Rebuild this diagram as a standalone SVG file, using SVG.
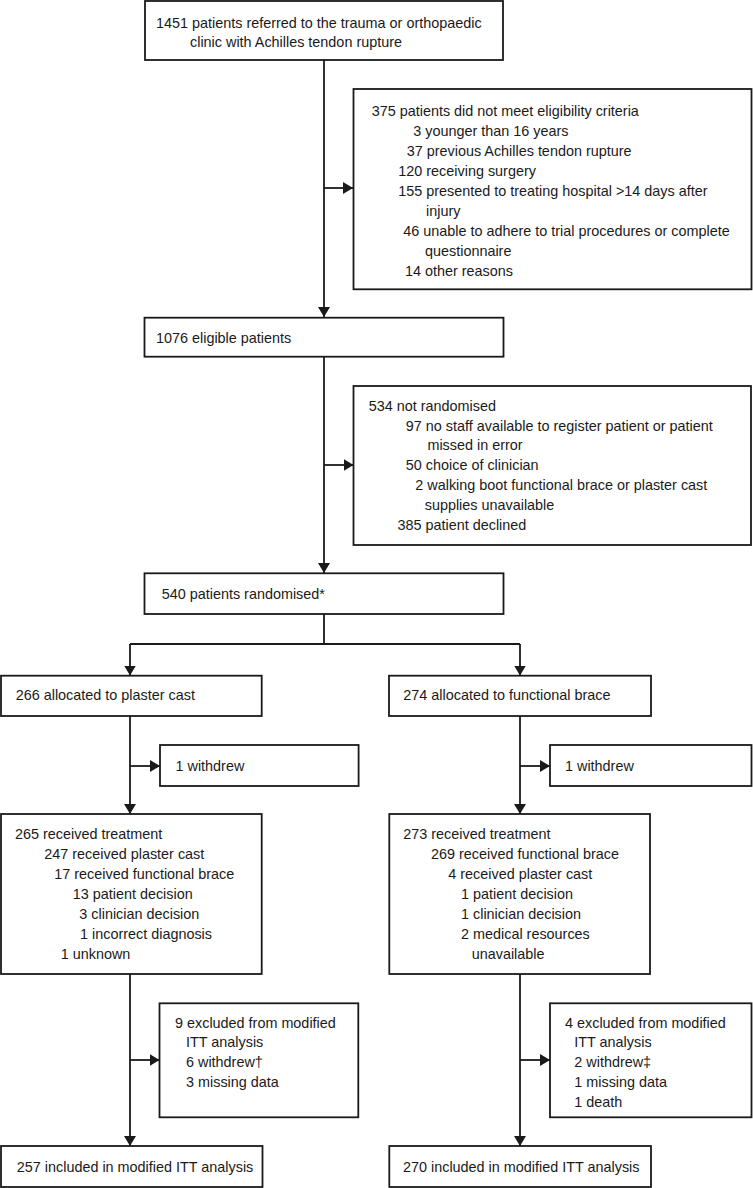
<svg xmlns="http://www.w3.org/2000/svg" width="753" height="1188" viewBox="0 0 753 1188">
<style>
.box{fill:#ffffff;stroke:#1a1a1a;stroke-width:1.8}
.t{font-family:"Liberation Sans",Arial,sans-serif;font-size:14.4px;fill:#1a1a1a}
.c{fill:none;stroke:#1a1a1a;stroke-width:1.8}
</style>
<defs>
<marker id="arr" viewBox="0 0 10 12" refX="10" refY="6" markerWidth="10" markerHeight="12" markerUnits="userSpaceOnUse" orient="auto">
<path d="M0,0 L10,6 L0,12 Z" fill="#1a1a1a"/>
</marker>
</defs>
<rect width="753" height="1188" fill="#ffffff"/>
<g id="connectors">
<path class="c" d="M324,60 V317" marker-end="url(#arr)"/>
<path class="c" d="M324,188 H353" marker-end="url(#arr)"/>
<path class="c" d="M324,357 V573" marker-end="url(#arr)"/>
<path class="c" d="M324,465 H353.5" marker-end="url(#arr)"/>
<path class="c" d="M324,614 V644 M130,644 H520"/>
<path class="c" d="M130,644 V675.5" marker-end="url(#arr)"/>
<path class="c" d="M520,644 V675.5" marker-end="url(#arr)"/>
<path class="c" d="M130,716 V814" marker-end="url(#arr)"/>
<path class="c" d="M130,766 H160" marker-end="url(#arr)"/>
<path class="c" d="M520,716 V814" marker-end="url(#arr)"/>
<path class="c" d="M520,766 H550" marker-end="url(#arr)"/>
<path class="c" d="M130,974 V1146" marker-end="url(#arr)"/>
<path class="c" d="M130,1060 H159.5" marker-end="url(#arr)"/>
<path class="c" d="M520,974 V1146" marker-end="url(#arr)"/>
<path class="c" d="M520,1060 H550" marker-end="url(#arr)"/>
</g>
<g id="referred">
<rect class="box" x="145" y="1" width="358" height="59"/>
<text class="t" x="156" y="27.7">1451 patients referred to the trauma or orthopaedic</text>
<text class="t" x="190" y="47.3">clinic with Achilles tendon rupture</text>
</g>
<g id="not-eligible">
<rect class="box" x="353.5" y="89" width="398" height="200.3"/>
<text class="t" x="371.7" y="115.7">375 patients did not meet eligibility criteria</text>
<text class="t" x="413.3" y="135.7">3 younger than 16 years</text>
<text class="t" x="406.7" y="155.7">37 previous Achilles tendon rupture</text>
<text class="t" x="398.3" y="175.7">120 receiving surgery</text>
<text class="t" x="398.3" y="195.7">155 presented to treating hospital &gt;14 days after</text>
<text class="t" x="426" y="215.7">injury</text>
<text class="t" x="403.3" y="235.7">46 unable to adhere to trial procedures or complete</text>
<text class="t" x="425" y="255.7">questionnaire</text>
<text class="t" x="405" y="275.7">14 other reasons</text>
</g>
<g id="eligible">
<rect class="box" x="144.5" y="317.7" width="359" height="39"/>
<text class="t" x="156" y="342.7">1076 eligible patients</text>
</g>
<g id="not-randomised">
<rect class="box" x="353.5" y="386" width="397.5" height="159"/>
<text class="t" x="368.8" y="410.7">534 not randomised</text>
<text class="t" x="405.8" y="430.7">97 no staff available to register patient or patient</text>
<text class="t" x="427.4" y="450.3">missed in error</text>
<text class="t" x="405.8" y="470">50 choice of clinician</text>
<text class="t" x="415.3" y="490">2 walking boot functional brace or plaster cast</text>
<text class="t" x="424.7" y="510">supplies unavailable</text>
<text class="t" x="397.5" y="530">385 patient declined</text>
</g>
<g id="randomised">
<rect class="box" x="144.5" y="573.3" width="359" height="40.7"/>
<text class="t" x="161.7" y="599">540 patients randomised*</text>
</g>
<g id="alloc-plaster">
<rect class="box" x="1" y="675.7" width="260.7" height="40.3"/>
<text class="t" x="15.7" y="700">266 allocated to plaster cast</text>
</g>
<g id="alloc-brace">
<rect class="box" x="389" y="675.7" width="262" height="40.3"/>
<text class="t" x="403.3" y="700">274 allocated to functional brace</text>
</g>
<g id="withdrew-plaster">
<rect class="box" x="160" y="745" width="198.6" height="41"/>
<text class="t" x="175.5" y="770.5">1 withdrew</text>
</g>
<g id="withdrew-brace">
<rect class="box" x="550" y="745" width="201.5" height="41"/>
<text class="t" x="565" y="770.5">1 withdrew</text>
</g>
<g id="treated-plaster">
<rect class="box" x="1" y="814" width="260.7" height="160"/>
<text class="t" x="15" y="839.3">265 received treatment</text>
<text class="t" x="44.3" y="859.3">247 received plaster cast</text>
<text class="t" x="54.3" y="879.3">17 received functional brace</text>
<text class="t" x="72.7" y="899.3">13 patient decision</text>
<text class="t" x="79.3" y="919.3">3 clinician decision</text>
<text class="t" x="80" y="939.3">1 incorrect diagnosis</text>
<text class="t" x="60.7" y="959.3">1 unknown</text>
</g>
<g id="treated-brace">
<rect class="box" x="389.3" y="814" width="260.7" height="160"/>
<text class="t" x="403.3" y="839.3">273 received treatment</text>
<text class="t" x="431" y="859.3">269 received functional brace</text>
<text class="t" x="448.3" y="879.3">4 received plaster cast</text>
<text class="t" x="461" y="899.3">1 patient decision</text>
<text class="t" x="461" y="919.3">1 clinician decision</text>
<text class="t" x="461" y="939.3">2 medical resources</text>
<text class="t" x="471.7" y="959.3">unavailable</text>
</g>
<g id="excluded-plaster">
<rect class="box" x="159.5" y="1003.3" width="198.8" height="114"/>
<text class="t" x="175" y="1027.5">9 excluded from modified</text>
<text class="t" x="186" y="1047">ITT analysis</text>
<text class="t" x="186" y="1066.7">6 withdrew†</text>
<text class="t" x="186" y="1086.7">3 missing data</text>
</g>
<g id="excluded-brace">
<rect class="box" x="550" y="1003.3" width="201.5" height="114"/>
<text class="t" x="565" y="1027.5">4 excluded from modified</text>
<text class="t" x="574.3" y="1047">ITT analysis</text>
<text class="t" x="574.3" y="1066.7">2 withdrew‡</text>
<text class="t" x="574.3" y="1086.7">1 missing data</text>
<text class="t" x="574.3" y="1106.7">1 death</text>
</g>
<g id="itt-plaster">
<rect class="box" x="1" y="1146" width="261.5" height="41"/>
<text class="t" x="16.8" y="1172">257 included in modified ITT analysis</text>
</g>
<g id="itt-brace">
<rect class="box" x="389.3" y="1146" width="261.7" height="41"/>
<text class="t" x="403" y="1172">270 included in modified ITT analysis</text>
</g>
</svg>
